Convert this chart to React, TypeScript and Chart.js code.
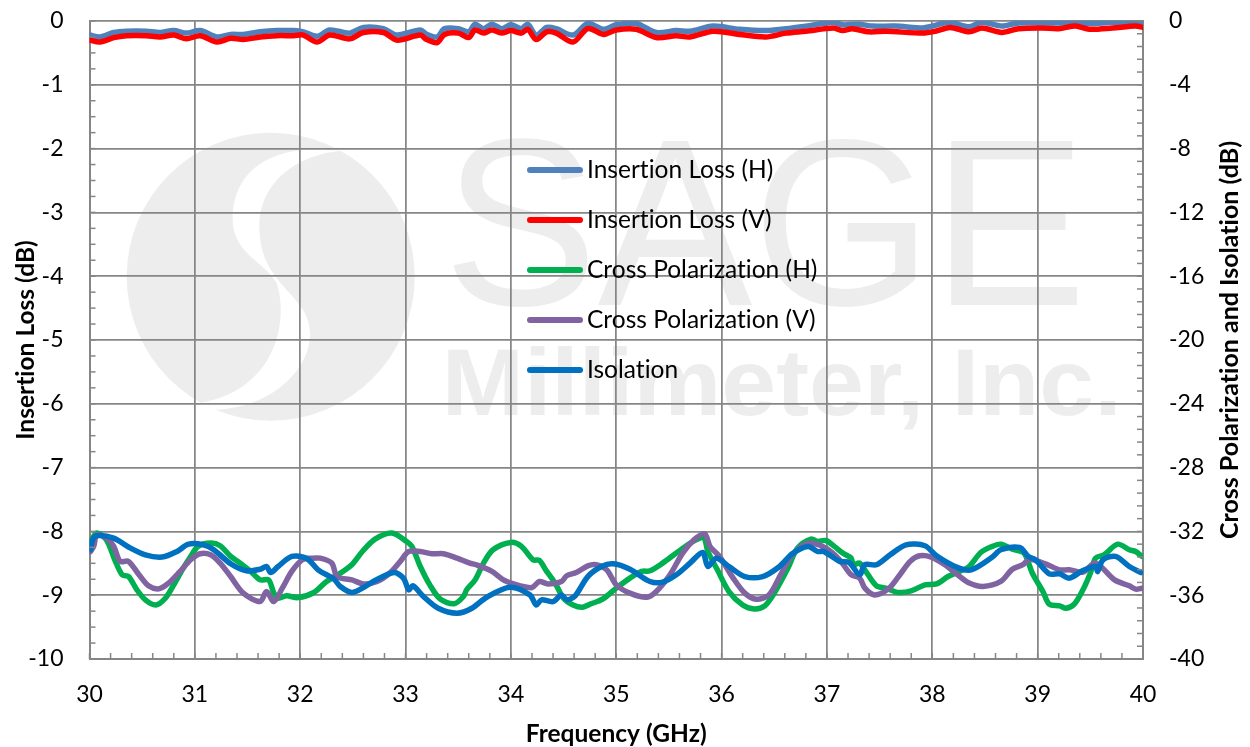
import React, { useEffect, useRef } from "react";
import { Chart, registerables } from "chart.js";

Chart.register(...registerables);

const legendNames = ["Insertion Loss (H)", "Insertion Loss (V)", "Cross Polarization (H)", "Cross Polarization (V)", "Isolation"];
const xTitle = "Frequency (GHz)";
const leftTitle = "Insertion Loss (dB)";
const rightTitle = "Cross Polarization and Isolation (dB)";

const ilFreqH = [30.0,30.1,30.23,30.35,30.54,30.67,30.8,30.92,31.05,31.21,31.34,31.46,31.62,31.78,31.94,32.03,32.16,32.28,32.47,32.6,32.79,32.92,33.14,33.2,33.3,33.37,33.5,33.6,33.66,33.74,33.82,33.91,34.0,34.1,34.16,34.24,34.34,34.43,34.59,34.73,34.88,35.0,35.19,35.38,35.57,35.7,35.92,36.17,36.42,36.61,36.8,37.06,37.15,37.3,37.43,37.65,37.91,38.0,38.16,38.35,38.47,38.66,38.82,39.04,39.23,39.36,39.49,39.71,40.0];
const ilValsH = [-0.22,-0.25,-0.18,-0.16,-0.16,-0.18,-0.15,-0.19,-0.15,-0.25,-0.21,-0.21,-0.17,-0.15,-0.15,-0.17,-0.24,-0.14,-0.19,-0.10,-0.12,-0.22,-0.14,-0.21,-0.25,-0.12,-0.12,-0.17,-0.05,-0.12,-0.05,-0.12,-0.06,-0.12,-0.05,-0.22,-0.10,-0.12,-0.22,-0.04,-0.13,-0.06,-0.04,-0.18,-0.15,-0.16,-0.08,-0.13,-0.15,-0.12,-0.08,-0.02,-0.06,-0.05,-0.08,-0.08,-0.11,-0.08,-0.02,-0.09,-0.02,-0.08,-0.03,-0.03,-0.03,-0.02,-0.04,-0.02,-0.02];

const ilFreqV = [30.0,30.1,30.23,30.35,30.54,30.67,30.8,30.92,31.05,31.21,31.34,31.46,31.62,31.78,31.94,32.03,32.16,32.28,32.47,32.6,32.79,32.92,33.14,33.2,33.3,33.37,33.5,33.6,33.66,33.74,33.82,33.91,34.0,34.1,34.16,34.24,34.34,34.43,34.59,34.73,34.88,35.0,35.19,35.38,35.57,35.7,35.92,36.17,36.42,36.61,36.8,37.06,37.15,37.24,37.4,37.56,37.91,38.03,38.17,38.35,38.47,38.66,38.82,39.04,39.2,39.36,39.49,39.71,39.93,40.0];
const ilValsV = [-0.30,-0.33,-0.26,-0.23,-0.23,-0.25,-0.22,-0.28,-0.23,-0.33,-0.27,-0.29,-0.25,-0.23,-0.23,-0.22,-0.33,-0.22,-0.28,-0.18,-0.18,-0.30,-0.22,-0.29,-0.34,-0.21,-0.19,-0.26,-0.14,-0.19,-0.14,-0.19,-0.15,-0.19,-0.13,-0.29,-0.17,-0.19,-0.33,-0.12,-0.21,-0.14,-0.13,-0.26,-0.23,-0.25,-0.16,-0.21,-0.25,-0.19,-0.16,-0.11,-0.15,-0.12,-0.17,-0.16,-0.19,-0.16,-0.10,-0.17,-0.11,-0.18,-0.12,-0.11,-0.12,-0.08,-0.13,-0.11,-0.08,-0.10];

const xpFreqH = [30.01,30.07,30.16,30.24,30.31,30.37,30.45,30.53,30.63,30.72,30.8,30.89,30.96,31.03,31.15,31.24,31.34,31.43,31.53,31.62,31.7,31.75,31.79,31.87,31.98,32.13,32.25,32.38,32.49,32.59,32.71,32.87,33.01,33.06,33.14,33.23,33.33,33.46,33.55,33.58,33.66,33.74,33.83,34.0,34.1,34.21,34.27,34.34,34.42,34.5,34.59,34.68,34.76,34.87,35.0,35.13,35.24,35.32,35.44,35.57,35.73,35.83,35.87,35.96,36.07,36.2,36.31,36.41,36.5,36.63,36.72,36.85,36.91,36.99,37.07,37.15,37.23,37.25,37.31,37.38,37.47,37.56,37.68,37.8,37.93,38.04,38.15,38.26,38.35,38.46,38.57,38.65,38.76,38.87,38.95,39.05,39.11,39.21,39.27,39.35,39.43,39.5,39.55,39.63,39.76,39.87,39.93,39.99];
const xpValsH = [-32.63,-32.10,-32.52,-33.78,-34.72,-34.83,-35.66,-36.29,-36.61,-36.19,-35.35,-34.30,-33.57,-32.94,-32.73,-32.90,-33.57,-33.99,-34.51,-35.04,-35.04,-35.87,-36.19,-36.04,-36.15,-35.83,-35.14,-34.62,-34.09,-33.26,-32.48,-32.10,-32.63,-32.94,-34.20,-35.35,-36.25,-36.54,-36.08,-35.66,-35.04,-33.99,-33.15,-32.69,-32.94,-33.78,-33.82,-34.51,-35.25,-36.19,-36.61,-36.75,-36.54,-36.25,-35.56,-34.93,-34.51,-34.47,-33.99,-33.36,-32.63,-32.42,-33.26,-34.41,-35.77,-36.61,-36.86,-36.67,-35.87,-34.30,-33.05,-32.48,-32.63,-32.57,-32.94,-33.36,-33.68,-34.09,-33.99,-34.62,-35.41,-35.56,-35.83,-35.73,-35.35,-35.29,-34.83,-34.51,-34.20,-33.32,-32.94,-32.80,-33.11,-33.36,-34.62,-35.77,-36.56,-36.67,-36.82,-36.54,-35.66,-34.62,-33.68,-33.47,-32.80,-33.15,-33.26,-33.57];

const xpFreqV = [30.01,30.04,30.07,30.16,30.23,30.29,30.37,30.47,30.56,30.66,30.75,30.86,30.96,31.05,31.15,31.24,31.34,31.46,31.62,31.68,31.75,31.83,31.92,32.02,32.11,32.19,32.3,32.35,32.49,32.6,32.73,32.85,32.95,33.03,33.14,33.25,33.36,33.49,33.61,33.67,33.82,33.94,34.09,34.2,34.27,34.35,34.48,34.53,34.62,34.73,34.81,34.91,35.0,35.13,35.29,35.38,35.51,35.63,35.74,35.84,35.89,35.98,36.11,36.22,36.33,36.45,36.56,36.67,36.78,36.86,36.99,37.12,37.23,37.31,37.36,37.45,37.58,37.68,37.79,37.88,37.99,38.12,38.24,38.34,38.48,38.65,38.76,38.86,38.92,39.08,39.21,39.3,39.43,39.55,39.73,39.87,39.93,39.99];
const xpValsV = [-33.26,-32.94,-32.21,-32.42,-32.94,-33.88,-33.88,-34.72,-35.41,-35.60,-35.25,-34.51,-33.78,-33.40,-33.47,-33.99,-34.83,-35.87,-36.40,-35.77,-36.40,-35.56,-34.51,-33.78,-33.68,-33.68,-33.99,-34.83,-35.04,-35.29,-35.14,-34.62,-33.88,-33.26,-33.26,-33.40,-33.40,-33.68,-33.99,-34.09,-34.51,-35.08,-35.41,-35.52,-35.14,-35.29,-35.14,-34.78,-34.58,-34.16,-34.09,-34.41,-35.35,-35.87,-36.13,-35.77,-34.72,-33.36,-32.52,-32.15,-32.94,-33.57,-34.93,-35.87,-36.25,-35.98,-34.72,-33.47,-32.84,-32.73,-33.05,-33.78,-34.72,-34.93,-35.56,-35.98,-35.62,-34.83,-33.88,-33.53,-33.61,-34.09,-34.72,-35.20,-35.45,-35.14,-34.37,-34.09,-33.74,-34.05,-34.41,-34.41,-34.55,-33.99,-35.04,-35.41,-35.62,-35.56];

const isoFreq = [30.01,30.03,30.07,30.23,30.37,30.53,30.69,30.83,30.94,31.08,31.18,31.34,31.49,31.62,31.68,31.72,31.79,31.92,32.06,32.17,32.32,32.38,32.49,32.62,32.71,32.89,32.98,33.03,33.07,33.17,33.31,33.49,33.63,33.77,33.99,34.18,34.24,34.29,34.4,34.48,34.53,34.61,34.73,34.86,34.97,35.13,35.32,35.44,35.57,35.7,35.82,35.87,35.95,36.07,36.22,36.39,36.55,36.67,36.82,36.91,36.97,37.12,37.21,37.31,37.36,37.47,37.6,37.75,37.93,38.04,38.23,38.37,38.57,38.65,38.83,38.91,38.98,39.11,39.21,39.3,39.43,39.55,39.57,39.62,39.74,39.87,39.98];
const isoVals = [-33.15,-32.52,-32.27,-32.42,-32.98,-33.47,-33.61,-33.26,-32.80,-32.84,-33.15,-34.03,-34.47,-34.37,-34.20,-34.58,-34.20,-33.57,-33.68,-34.41,-34.99,-35.45,-35.83,-35.45,-35.08,-34.58,-34.93,-35.66,-35.41,-36.08,-36.82,-37.13,-36.82,-36.13,-35.50,-35.98,-36.61,-36.29,-36.40,-35.98,-36.29,-36.04,-34.83,-34.20,-34.03,-34.37,-35.14,-35.18,-34.72,-33.99,-33.32,-34.20,-33.68,-34.20,-34.83,-34.83,-34.20,-33.40,-32.94,-33.26,-33.26,-33.88,-33.95,-34.72,-34.09,-34.09,-33.47,-32.84,-32.90,-33.53,-34.24,-34.41,-33.61,-33.15,-33.01,-33.57,-33.78,-34.66,-34.66,-34.93,-34.45,-34.20,-34.51,-33.78,-33.57,-34.20,-34.58];

const seriesColors = ["#4F81BD", "#FF0000", "#00B050", "#8064A2", "#0070C0"];
const gridColor = "#868686";
const fontFamily = "Lato, Carlito, sans-serif";

const zip = (xs: number[], ys: number[]) => xs.map((x, i) => ({ x, y: ys[i] }));

const fitText = (ctx: CanvasRenderingContext2D, text: string, font: string, left: number, right: number, baseline: number) => {
  ctx.font = font;
  const m = ctx.measureText(text);
  const inkLeft = -m.actualBoundingBoxLeft;
  const inkW = m.actualBoundingBoxRight + m.actualBoundingBoxLeft;
  const s = (right - left) / inkW;
  ctx.save();
  ctx.translate(left, baseline);
  ctx.scale(s, 1);
  ctx.textAlign = "left";
  ctx.textBaseline = "alphabetic";
  ctx.fillText(text, -inkLeft, 0);
  ctx.restore();
};

const watermark = {
  id: "watermark",
  beforeDraw(chart: any) {
    const ctx: any = chart.ctx;
    ctx.letterSpacing = "0.01px";
    ctx.save();
    ctx.fillStyle = "#ffffff";
    ctx.fillRect(0, 0, chart.width, chart.height);
    ctx.fillStyle = "#EDEDED";
    ctx.beginPath();
    ctx.arc(270.7, 276.7, 144, 0, Math.PI * 2);
    ctx.fill();
    ctx.save();
    ctx.translate(100, 120);
    ctx.scale(1 / 3, 1 / 3);
    ctx.fillStyle = "#ffffff";
    ctx.beginPath();
    ctx.moveTo(730, 92);
    ctx.bezierCurveTo(560, 70, 398, 120, 398, 300);
    ctx.bezierCurveTo(398, 400, 500, 430, 530, 490);
    ctx.bezierCurveTo(570, 610, 520, 820, 290, 850);
    ctx.lineTo(330, 870);
    ctx.bezierCurveTo(500, 870, 630, 760, 630, 640);
    ctx.bezierCurveTo(630, 520, 478, 500, 478, 320);
    ctx.bezierCurveTo(478, 180, 600, 100, 730, 92);
    ctx.closePath();
    ctx.fill();
    ctx.restore();
    ctx.fillStyle = "#EDEDED";
    fitText(ctx, "SAGE", "237px 'Liberation Sans'", 453, 1077, 305);
    fitText(ctx, "Millimeter, Inc.", "bold 95px 'Liberation Sans'", 448, 1115, 415);
    ctx.restore();
  },
};

const drawMinor = (ctx: CanvasRenderingContext2D, scale: any, step: number, from: number, to: number, len: number, edge: number, dir: number) => {
  const horizontal = scale.isHorizontal();
  const n = Math.round((to - from) / step);
  for (let i = 0; i <= n; i++) {
    const p = scale.getPixelForValue(from + i * step);
    ctx.beginPath();
    if (horizontal) {
      ctx.moveTo(p, edge);
      ctx.lineTo(p, edge + dir * len);
    } else {
      ctx.moveTo(edge, p);
      ctx.lineTo(edge + dir * len, p);
    }
    ctx.stroke();
  }
};

const extras = {
  id: "extras",
  afterDraw(chart: any) {
    const ctx: CanvasRenderingContext2D = chart.ctx;
    const { chartArea: a, scales } = chart;
    ctx.save();
    ctx.strokeStyle = gridColor;
    ctx.lineWidth = 1.5;
    drawMinor(ctx, scales.x, 0.2, 30, 40, 6, a.bottom, -1);
    drawMinor(ctx, scales.y, 0.25, -10, 0, 6, a.left, 1);
    drawMinor(ctx, scales.y1, 0.8, -40, 0, 6, a.right, -1);

    // right axis title reads bottom to top
    ctx.save();
    ctx.translate(1230, (a.top + a.bottom) / 2);
    ctx.rotate(-Math.PI / 2);
    ctx.font = `bold 25px ${fontFamily}`;
    ctx.fillStyle = "#000";
    ctx.textAlign = "center";
    ctx.textBaseline = "middle";
    ctx.fillText(rightTitle, 0, 0);
    ctx.restore();

    // legend
    ctx.font = `24.5px ${fontFamily}`;
    ctx.textAlign = "left";
    ctx.textBaseline = "middle";
    chart.data.datasets.forEach((d: any, i: number) => {
      const y = 170 + i * 50;
      ctx.strokeStyle = d.borderColor;
      ctx.lineWidth = 6;
      ctx.lineCap = "round";
      ctx.beginPath();
      ctx.moveTo(530, y);
      ctx.lineTo(580, y);
      ctx.stroke();
      ctx.fillStyle = "#000";
      ctx.fillText(d.label, 587, y);
    });
    ctx.restore();
  },
};

const noPad = (s: any) => {
  s.paddingTop = 0;
  s.paddingBottom = 0;
  s.paddingLeft = 0;
  s.paddingRight = 0;
};

export default function App() {
  const ref = useRef<HTMLCanvasElement>(null);
  useEffect(() => {
    const line = (i: number, xs: number[], ys: number[], yAxisID: string) => ({
      label: legendNames[i],
      data: zip(xs, ys),
      yAxisID,
      borderColor: seriesColors[i],
      backgroundColor: seriesColors[i],
      borderWidth: 5.5,
      pointRadius: 0,
      tension: 0.3,
      borderCapStyle: "round" as const,
      borderJoinStyle: "round" as const,
      order: 5 - i,
    });
    const tickFont = { family: fontFamily, size: 23 };
    const titleFont = { family: fontFamily, size: 24.5, weight: "bold" as const };
    const chart = new Chart(ref.current!, {
      type: "line",
      data: {
        datasets: [
          line(0, ilFreqH, ilValsH, "y"),
          line(1, ilFreqV, ilValsV, "y"),
          line(2, xpFreqH, xpValsH, "y1"),
          line(3, xpFreqV, xpValsV, "y1"),
          line(4, isoFreq, isoVals, "y1"),
        ],
      },
      options: {
        animation: false,
        responsive: false,
        devicePixelRatio: 1,
        layout: { padding: { top: 21, left: 0, right: 0, bottom: 0 } },
        plugins: { legend: { display: false }, tooltip: { enabled: false } },
        scales: {
          x: {
            type: "linear",
            min: 30,
            max: 40,
            afterFit: (s: any) => { s.height = 88; noPad(s); },
            ticks: { stepSize: 1, font: tickFont, color: "#000", padding: 22, maxRotation: 0 },
            grid: { color: gridColor, lineWidth: 1.75, drawTicks: false },
            border: { color: gridColor, width: 2 },
            title: { display: true, text: xTitle, color: "#000", font: { ...titleFont, lineHeight: 1.05 }, padding: { top: 0, bottom: 0 } },
          },
          y: {
            position: "left",
            min: -10,
            max: 0,
            afterFit: (s: any) => { s.width = 89.5; noPad(s); },
            ticks: { stepSize: 1, font: tickFont, color: "#000", padding: 26 },
            grid: { color: gridColor, lineWidth: 1.75, drawTicks: false },
            border: { color: gridColor, width: 2 },
            title: { display: true, text: leftTitle, color: "#000", font: titleFont, padding: { top: 11, bottom: 0 } },
          },
          y1: {
            position: "right",
            min: -40,
            max: 0,
            afterFit: (s: any) => { s.width = 107; noPad(s); },
            ticks: { stepSize: 4, font: tickFont, color: "#000", padding: 26 },
            grid: { display: false, drawTicks: false },
            border: { color: gridColor, width: 2 },
          },
        },
      },
      plugins: [watermark, extras],
    } as any);
    return () => chart.destroy();
  }, []);
  return (
    <div style={{ position: "fixed", left: 0, top: 0, width: 1250, height: 747, background: "#fff" }}>
      <canvas ref={ref} width={1250} height={747} style={{ display: "block" }} />
    </div>
  );
}
